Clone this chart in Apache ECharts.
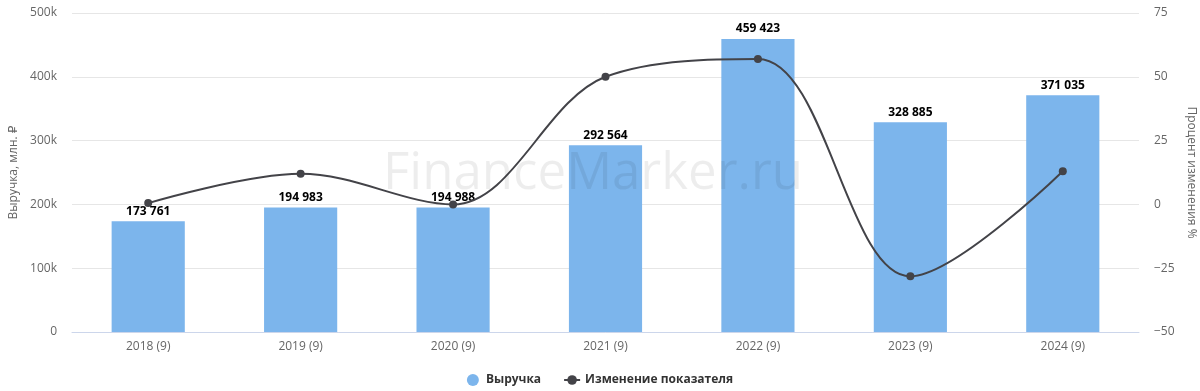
<!DOCTYPE html>
<html>
<head>
<meta charset="utf-8">
<script src="https://cdn.jsdelivr.net/npm/echarts@6/dist/echarts.min.js"></script>
<style>
html,body{margin:0;padding:0;background:#fff;}
#c{width:1200px;height:391px;}
</style>
</head>
<body>
<div id="c"></div>
<script>
const categories = ['2018 (9)', '2019 (9)', '2020 (9)', '2021 (9)', '2022 (9)', '2023 (9)', '2024 (9)'];
const revenue = [173761, 194983, 194988, 292564, 459423, 328885, 371035];
const changePct = [0.5, 12.0, 0.0, 50.0, 57.0, -28.2, 13.0];
const leftTicks = {min: 0, max: 500000, interval: 100000};
const rightTicks = {min: -50, max: 75, interval: 25};

const FONT = '"Open Sans", "DejaVu Sans", sans-serif';
const chart = echarts.init(document.getElementById('c'), null, {renderer: 'canvas'});
chart.setOption({
  animation: false,
  textStyle: {fontFamily: FONT},
  graphic: [{
    type: 'text',
    left: 383, top: 149,
    z: 100,
    silent: true,
    style: {
      text: 'FinanceMarker.ru',
      font: '51px ' + FONT,
      fill: 'rgba(0,0,0,0.07)'
    }
  }],
  grid: {left: 72, right: 61, top: 13, bottom: 59, containLabel: false, outerBoundsMode: 'none'},
  legend: {
    bottom: 0,
    left: 'center',
    itemGap: 22,
    itemWidth: 16,
    itemHeight: 12,
    textStyle: {fontFamily: FONT, fontSize: 12, fontWeight: 'bold', color: '#333'},
    data: [
      {name: 'Выручка', icon: 'circle'},
      {name: 'Изменение показателя'}
    ]
  },
  xAxis: {
    type: 'category',
    data: categories,
    axisLine: {lineStyle: {color: '#ccd6eb'}},
    axisTick: {show: false},
    axisLabel: {color: '#666', fontSize: 12, margin: 9, fontFamily: FONT},
    splitLine: {show: false}
  },
  yAxis: [{
    type: 'value',
    min: leftTicks.min, max: leftTicks.max, interval: leftTicks.interval,
    name: 'Выручка, млн. ₽',
    nameLocation: 'middle',
    nameGap: 51,
    nameTextStyle: {color: '#666', fontSize: 12, fontFamily: FONT},
    axisLabel: {color: '#666', fontSize: 12, margin: 15, fontFamily: FONT,
      formatter: v => v === 0 ? '0' : (v / 1000) + 'k'},
    splitLine: {lineStyle: {color: '#e6e6e6'}},
    axisLine: {show: false},
    axisTick: {show: false}
  }, {
    type: 'value',
    min: rightTicks.min, max: rightTicks.max, interval: rightTicks.interval,
    name: 'Процент изменения %',
    nameLocation: 'middle',
    nameGap: 42,
    nameRotate: -90,
    nameTextStyle: {color: '#666', fontSize: 12, fontFamily: FONT},
    axisLabel: {color: '#666', fontSize: 12, margin: 15, fontFamily: FONT,
      formatter: v => String(v).replace('-', '\u2212')},
    splitLine: {lineStyle: {color: '#e6e6e6'}},
    axisLine: {show: false},
    axisTick: {show: false}
  }],
  series: [{
    name: 'Выручка',
    type: 'bar',
    yAxisIndex: 0,
    data: revenue,
    barWidth: '48%',
    itemStyle: {color: '#7cb5ec'},
    z: 2,
    label: {
      show: true,
      position: 'top',
      distance: 4,
      color: '#000',
      fontSize: 12,
      fontWeight: 'bold',
      fontFamily: FONT,
      textBorderColor: '#fff',
      textBorderWidth: 2,
      formatter: p => String(p.value).replace(/\B(?=(\d{3})+(?!\d))/g, ' ')
    }
  }, {
    name: 'Изменение показателя',
    type: 'line',
    yAxisIndex: 1,
    data: changePct,
    smooth: 0.35,
    symbol: 'circle',
    symbolSize: 8,
    lineStyle: {color: '#434348', width: 2},
    itemStyle: {color: '#434348'},
    z: 3
  }]
});
</script>
</body>
</html>
